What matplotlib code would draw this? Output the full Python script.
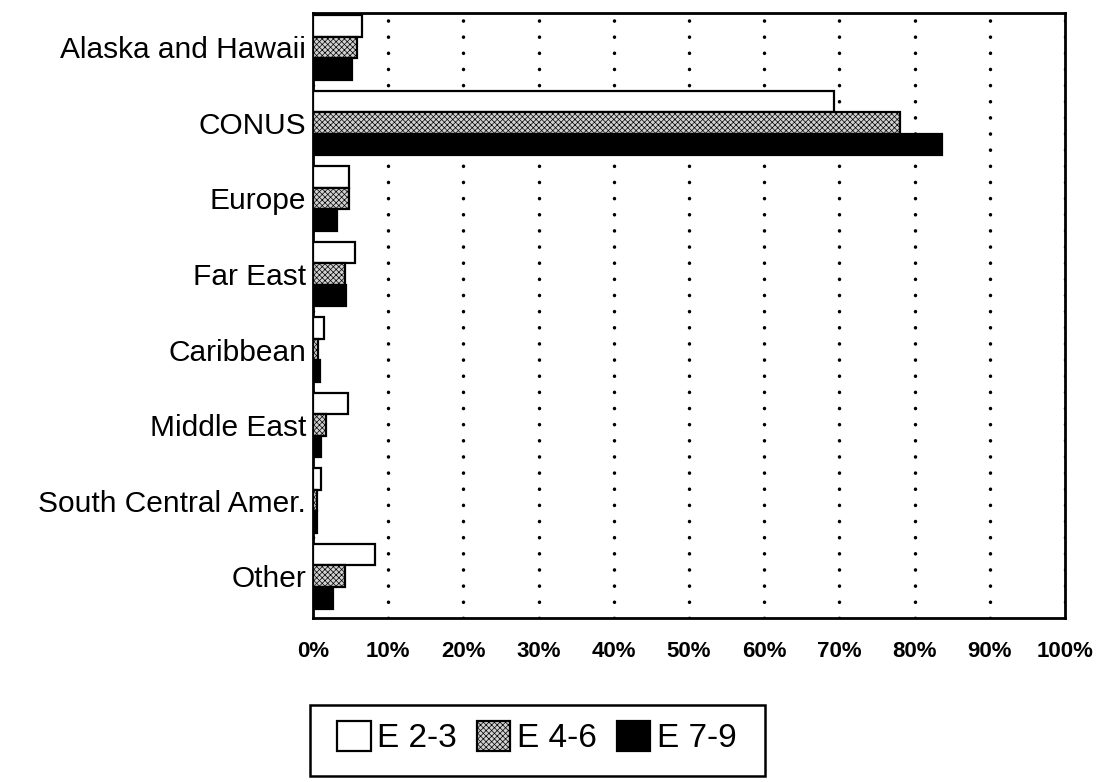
import numpy as np
import matplotlib
matplotlib.use("Agg")
import matplotlib.pyplot as plt
from matplotlib.patches import Rectangle

plt.rcParams['font.family'] = ['Liberation Sans', 'DejaVu Sans']
plt.rcParams['hatch.linewidth'] = 0.5
plt.rcParams['lines.dash_capstyle'] = 'round'

regions = ["Alaska and Hawaii", "CONUS", "Europe", "Far East", "Caribbean",
           "Middle East", "South Central Amer.", "Other"]
e23 = [6.5, 69.3, 4.8, 5.6, 1.5, 4.7, 1.1, 8.3]
e46 = [5.9, 78.1, 4.8, 4.3, 0.7, 1.7, 0.6, 4.3]
e79 = [5.2, 83.6, 3.2, 4.4, 0.9, 1.1, 0.5, 2.7]
series_names = ["E 2-3", "E 4-6", "E 7-9"]
xticks = np.arange(0, 101, 10)
xtick_labels = [str(t) + "%" for t in xticks]

fig = plt.figure(figsize=(10.98, 7.82), dpi=100)
ax = fig.add_axes([0.285, 0.21, 0.685, 0.773])

y = np.arange(len(regions))
h = 0.285
styles = [dict(color='white', hatch=None),
          dict(color='#d0d0d0', hatch='xxxxxx'),
          dict(color='black', hatch=None)]
bars = []
for k, vals in enumerate([e23, e46, e79]):
    b = ax.barh(y + (k - 1) * h, vals, height=h, facecolor=styles[k]['color'],
                edgecolor='black', linewidth=1.6, hatch=styles[k]['hatch'],
                label=series_names[k], zorder=3)
    bars.append(b)

ax.set_xlim(0, 100)
ax.set_ylim(7.55, -0.45)
ax.set_xticks(xticks)
ax.set_xticklabels(xtick_labels, fontsize=16, fontweight='bold')
ax.set_yticks(y)
ax.set_yticklabels(regions, fontsize=21.5)
ax.tick_params(length=0)
ax.tick_params(axis='y', pad=5)
ax.tick_params(axis='x', pad=17)
ax.grid(axis='x', color='black', linestyle=(0, (0.05, 4.6)), linewidth=2.5, zorder=1)
ax.set_axisbelow(True)
for s in ax.spines.values():
    s.set_linewidth(2.0)

# legend with its own box
leg = fig.legend(handles=bars, labels=series_names, loc='center',
                 bbox_to_anchor=(0.489, 0.057), ncol=3, frameon=False,
                 fontsize=24, handlelength=1.0, handleheight=1.0,
                 handletextpad=0.2, columnspacing=0.6)
fig.add_artist(Rectangle((0.282, 0.008), 0.415, 0.091, transform=fig.transFigure,
                         fill=False, edgecolor='black', linewidth=1.8))

fig.savefig("out.png", dpi=100)
